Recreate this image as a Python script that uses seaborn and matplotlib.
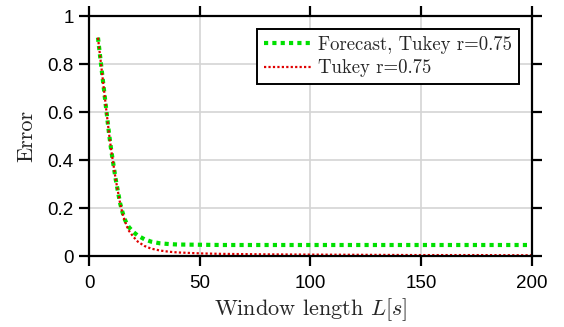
import matplotlib
matplotlib.use("Agg")
import matplotlib.pyplot as plt
import pandas as pd
import seaborn as sns

# window lengths [s]
window_len = [4, 5, 6, 7, 8, 9, 10, 11, 12, 13, 14, 15, 16, 17, 18, 20, 22, 25,
              28, 32, 36, 40, 50, 60, 80, 100, 125, 150, 175, 200]
err_forecast = [0.91, 0.83, 0.75, 0.67, 0.59, 0.51, 0.44, 0.38, 0.32, 0.27, 0.22,
                0.185, 0.155, 0.135, 0.12, 0.10, 0.085, 0.07, 0.06, 0.053, 0.05,
                0.048, 0.047, 0.046, 0.046, 0.046, 0.046, 0.046, 0.046, 0.046]
err_tukey = [0.91, 0.83, 0.75, 0.67, 0.59, 0.51, 0.44, 0.38, 0.32, 0.27, 0.22,
             0.18, 0.15, 0.125, 0.105, 0.08, 0.06, 0.042, 0.031, 0.023, 0.018,
             0.015, 0.011, 0.009, 0.007, 0.006, 0.005, 0.004, 0.004, 0.003]
series_names = ["Forecast, Tukey r=0.75", "Tukey r=0.75"]

df = pd.DataFrame({
    "L": window_len * 2,
    "err": err_forecast + err_tukey,
    "series": [series_names[0]] * len(window_len) + [series_names[1]] * len(window_len),
})

sns.set_theme(style="ticks")
plt.rcParams["font.family"] = ["Liberation Sans", "DejaVu Sans"]
plt.rcParams["mathtext.fontset"] = "cm"

fig = plt.figure(figsize=(5.64, 3.27), dpi=100)
ax = fig.add_axes([0.158, 0.217, 0.785, 0.734])

sns.lineplot(data=df, x="L", y="err", hue="series", style="series",
             palette=["#00e000", "#e00000"], dashes=False, ax=ax, legend=False)
ax.lines[0].set_linestyle((0, (1, 1)))
ax.lines[0].set_linewidth(3.0)
ax.lines[1].set_linestyle((0, (1, 1)))
ax.lines[1].set_linewidth(1.6)

ax.set_xlim(0, 200)
ax.set_ylim(0, 1)
ax.set_xticks([0, 50, 100, 150, 200])
ax.set_yticks([0, 0.2, 0.4, 0.6, 0.8, 1])
ax.set_yticklabels(["0", "0.2", "0.4", "0.6", "0.8", "1"])
ax.grid(True, color="#d4d4d4", linewidth=1.2)
for s in ax.spines.values():
    s.set_visible(True)
    s.set_color("black")
    s.set_linewidth(1.6)
ax.tick_params(direction="out", length=7, width=1.6, labelsize=13.5,
               top=True, right=True, colors="black")
ax.tick_params(axis="x", pad=7)
ax.tick_params(axis="y", pad=4)
ax.set_xlabel(r"Window length $L[s]$", fontsize=16, family="cmr10", labelpad=3)
ax.set_ylabel("Error", fontsize=16, family="cmr10", labelpad=8)

leg = ax.legend(ax.lines, series_names, loc="upper right",
                bbox_to_anchor=(0.970, 0.946), frameon=True,
                prop={"family": "cmr10", "size": 13.5},
                fancybox=False, handlelength=2.6, handletextpad=0.3,
                borderpad=0.35, labelspacing=0.3, borderaxespad=0)
leg.get_frame().set_edgecolor("black")
leg.get_frame().set_linewidth(1.4)
leg.get_frame().set_alpha(1)

fig.savefig("out.png", dpi=100)
plt.close(fig)
